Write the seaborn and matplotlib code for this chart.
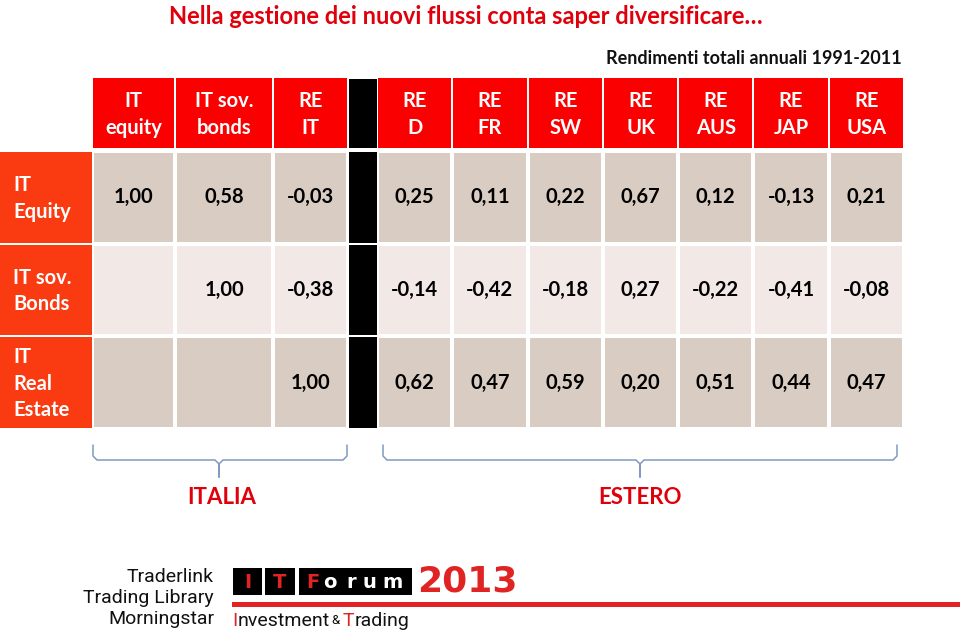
import numpy as np
import pandas as pd
import matplotlib
matplotlib.use('Agg')
import matplotlib.pyplot as plt
from matplotlib.colors import ListedColormap
from matplotlib.patches import Rectangle
import seaborn as sns

# correlation table data
col_labels = ['IT\nequity', 'IT sov.\nbonds', 'RE\nIT', 'RE\nD', 'RE\nFR', 'RE\nSW',
              'RE\nUK', 'RE\nAUS', 'RE\nJAP', 'RE\nUSA']
row_labels = ['IT\nEquity', 'IT sov.\nBonds', 'IT\nReal\nEstate']
it_equity = [1.00, 0.58, -0.03, 0.25, 0.11, 0.22, 0.67, 0.12, -0.13, 0.21]
it_bonds = [np.nan, 1.00, -0.38, -0.14, -0.42, -0.18, 0.27, -0.22, -0.41, -0.08]
it_real_estate = [np.nan, np.nan, 1.00, 0.62, 0.47, 0.59, 0.20, 0.51, 0.44, 0.47]
row_shade = [0, 1, 0]

title = 'Nella gestione dei nuovi flussi conta saper diversificare\u2026'
subtitle = 'Rendimenti totali annuali 1991-2011'
groups = ['ITALIA', 'ESTERO']

sns.set_theme(style='white')
plt.rcParams['font.family'] = ['Lato', 'DejaVu Sans']

W, H = 960, 638
fig = plt.figure(figsize=(9.6, 6.38), dpi=100)
bg = fig.add_axes([0, 0, 1, 1])
bg.set_xlim(0, W)
bg.set_ylim(H, 0)
bg.axis('off')

RED = '#FA0000'
ORANGE = '#FA3A10'
BEIGE = '#D9CCC3'
PINK = '#F2E8E6'
BRACE = '#7F9AC0'

corr = pd.DataFrame([it_equity, it_bonds, it_real_estate], index=row_labels, columns=col_labels)
annot = corr.map(lambda v: '' if np.isnan(v) else f'{v:.2f}'.replace('.', ','))
shade = pd.DataFrame(np.repeat(np.array(row_shade)[:, None], len(col_labels), axis=1),
                     index=row_labels, columns=col_labels)

# pixel layout
col_edges = [(92, 175), (175, 273), (273, 348)] + \
            [(377 + i * (904 - 377) / 7, 377 + (i + 1) * (904 - 377) / 7) for i in range(7)]
blocks = [(92, 175, [0]), (175, 273, [1]), (273, 348, [2]), (377, 904, list(range(3, 10)))]
top, bottom = 151, 429
row_edges = [top + i * (bottom - top) / 3 for i in range(4)]
head_top, head_bot = 78, 149


def px_axes(x0, x1, y0, y1):
    return fig.add_axes([x0 / W, 1 - y1 / H, (x1 - x0) / W, (y1 - y0) / H])


for x0, x1, idx in blocks:
    hax = px_axes(x0, x1, top, bottom)
    sns.heatmap(shade.iloc[:, idx], annot=annot.iloc[:, idx].values, fmt='',
                cmap=ListedColormap([BEIGE, PINK]), vmin=0, vmax=1, cbar=False,
                linewidths=1.5, linecolor='white', xticklabels=False, yticklabels=False,
                annot_kws={'fontsize': 14.5, 'fontweight': 'bold', 'color': 'black'}, ax=hax)
    hax.axis('off')

# header row
for (x0, x1), lab in zip(col_edges, col_labels):
    bg.add_patch(Rectangle((x0 + 1, head_top), x1 - x0 - 2, head_bot - head_top - 1, color=RED, lw=0))
    bg.text((x0 + x1) / 2, (head_top + head_bot) / 2 + 1, lab, ha='center', va='center',
            color='white', fontsize=14.5, fontweight='bold', linespacing=1.38)

# black separator column
for y0, y1 in [(head_top, head_bot)] + list(zip(row_edges[:-1], row_edges[1:])):
    bg.add_patch(Rectangle((349, y0 + 1), 28, y1 - y0 - 2, color='black', lw=0))

# row labels
for i, lab in enumerate(row_labels):
    y0, y1 = row_edges[i], row_edges[i + 1]
    bg.add_patch(Rectangle((0, y0 + 1), 92, y1 - y0 - 2, color=ORANGE, lw=0))
    bg.text(13, (y0 + y1) / 2 + 1, lab, ha='left', va='center', color='white',
            fontsize=14.5, fontweight='bold', linespacing=1.4)

bg.text(466, 16, title, ha='center', va='center', color='#E0000B', fontsize=17, fontweight='bold')
bg.text(902, 59, subtitle, ha='right', va='center', color='#111111', fontsize=13, fontweight='bold')


# braces under the table
def brace(x0, x1, xm, yt=445, yl=460, yb=477):
    xs = [x0, x0, x0 + 4, xm - 4, xm, xm, xm, xm + 4, x1 - 4, x1, x1]
    ys = [yt, yl - 4, yl, yl, yl + 4, yb, yl + 4, yl, yl, yl - 4, yt]
    bg.plot(xs, ys, color=BRACE, lw=1.1, solid_joinstyle='round')


brace(93, 347, 219)
brace(383, 897, 640)
bg.text(222, 498, groups[0], ha='center', va='center', color='#E0000B', fontsize=16, fontweight='bold')
bg.text(640, 498, groups[1], ha='center', va='center', color='#E0000B', fontsize=16, fontweight='bold')

# footer logo
narrow = ['Liberation Sans Narrow', 'Roboto', 'DejaVu Sans']
for y, s in zip([577, 598, 619], ['Traderlink', 'Trading Library', 'Morningstar']):
    bg.text(214, y, s, ha='right', va='center', color='#111111', fontsize=14, family=narrow)
for x0, x1 in [(233, 262), (265, 295), (299, 412)]:
    bg.add_patch(Rectangle((x0, 568), x1 - x0, 27, color='black', lw=0))
LRED = '#E02424'
for x, s, c in [(247.5, 'I', LRED), (280, 'T', LRED), (313, 'F', LRED), (330, 'o', 'white'),
                (351, 'r', 'white'), (369, 'u', 'white'), (392, 'm', 'white')]:
    bg.text(x, 582, s, ha='center', va='center', color=c, fontsize=14, fontweight='bold', family='DejaVu Sans')
bg.text(417, 582, '2013', ha='left', va='center', color=LRED, fontsize=26, fontweight='bold', family='DejaVu Sans')
bg.add_patch(Rectangle((232, 602), W - 232, 5, color=LRED, lw=0))

# "Investment & Trading", pieces placed one after another
renderer = fig.canvas.get_renderer()
x = 232
for s, c, fs, gap in [('I', LRED, 14, 0.5), ('nvestment', '#111111', 14, 2), ('&', '#111111', 9.5, 2),
                      ('T', LRED, 14, 0.5), ('rading', '#111111', 14, 0)]:
    t = bg.text(x, 621, s, ha='left', va='center', color=c, fontsize=fs, family=narrow)
    bb = t.get_window_extent(renderer)
    x += bb.width + gap

fig.savefig('out.png', dpi=100)
